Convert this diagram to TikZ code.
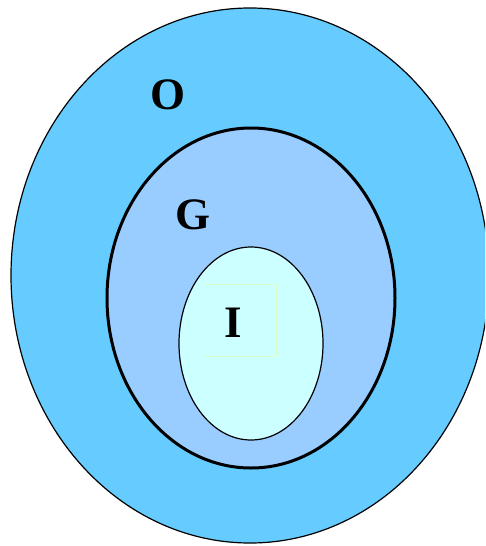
\documentclass[tikz,border=0pt]{standalone}
\usepackage{fontspec}
\setmainfont{Liberation Serif}
\definecolor{outerblue}{HTML}{66CCFF}
\definecolor{midblue}{HTML}{99CCFF}
\definecolor{innercyan}{HTML}{CCFFFF}
\definecolor{boxgreen}{HTML}{DDFFCC}
\tikzset{
  setlabel/.style={font=\fontsize{45}{45}\selectfont\bfseries, inner sep=0pt}
}
\begin{document}
\begin{tikzpicture}[x=1pt, y=-1pt]
  \useasboundingbox (0,0) rectangle (485,546);
  \clip (0,0) rectangle (485,546);

  % Ellipses
  \draw[fill=outerblue, line width=1.2pt] (250,275.5) ellipse (239 and 267.5);
  \draw[fill=midblue, line width=3pt] (251,298) ellipse (144 and 170);
  \draw[fill=innercyan, line width=1.2pt] (251,343.5) ellipse (72 and 96.5);

  % Labels
  \node[setlabel] (O) at (168,95) {O};
  \node[setlabel] (G) at (193,215) {G};
  \node[draw=boxgreen, line width=1pt, minimum width=73pt, minimum height=72pt] (Ibox) at (239.5,320) {};
  \node[setlabel] (I) at (233,323) {I};
\end{tikzpicture}
\end{document}
